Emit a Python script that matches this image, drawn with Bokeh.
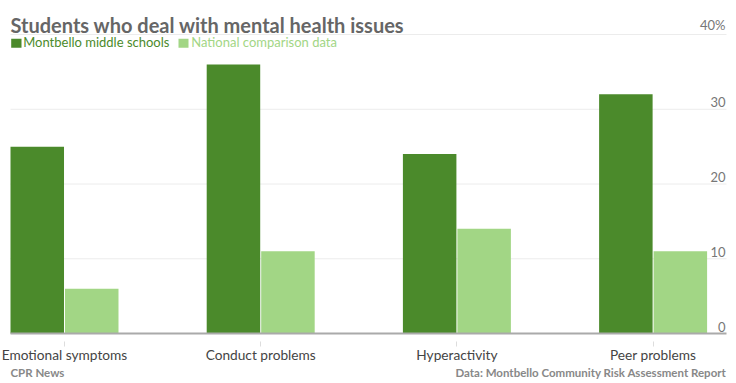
from bokeh.plotting import figure
from bokeh.models import (FixedTicker, Label, BoxAnnotation, Range1d, LinearAxis)
from bokeh.core.properties import value
from bokeh.embed import file_html
from bokeh.resources import INLINE

# ---- data ----
categories = ["Emotional symptoms", "Conduct problems", "Hyperactivity", "Peer problems"]
montbello = [25, 36, 24, 32]
national = [6, 11, 14, 11]
y_ticks = [0, 10, 20, 30, 40]
y_tick_labels = ["0", "10", "20", "30", "40%"]
grid_ticks = [10, 20, 30, 40]
series_names = ["Montbello middle schools", "National comparison data"]
title_text = "Students who deal with mental health issues"
source_text = "CPR News"
credit_text = "Data: Montbello Community Risk Assessment Report"

# ---- style / geometry ----
DARK = "#4b8a2b"
LIGHT = "#a2d685"
FONT = "Lato"
W, H = 736, 383
SLOT_PX = 196.2       # pixels per category
FIRST_PX = 64         # pixel of first category centre
X_START = -FIRST_PX / SLOT_PX
X_END = (W - FIRST_PX) / SLOT_PX
PLOT_L = (10 - FIRST_PX) / SLOT_PX
PLOT_R = (726 - FIRST_PX) / SLOT_PX
PX_PER_UNIT = 7.475
ZERO_PY = 333
Y_START = -(H - ZERO_PY) / PX_PER_UNIT
Y_END = ZERO_PY / PX_PER_UNIT
BAR_W = 0.2727
OFF = 0.13885
C = 6  # label baseline correction

p = figure(width=W, height=H, output_backend="svg", toolbar_location=None,
           x_range=Range1d(X_START, X_END), y_range=Range1d(Y_START, Y_END),
           x_axis_location=None, y_axis_location=None,
           min_border_left=0, min_border_right=0,
           min_border_top=0, min_border_bottom=0)
p.outline_line_color = None
p.background_fill_color = "white"
p.border_fill_color = "white"
p.grid.visible = False

# horizontal gridlines
p.segment(x0=[PLOT_L] * len(grid_ticks), x1=[PLOT_R] * len(grid_ticks),
          y0=grid_ticks, y1=grid_ticks, line_color="#ececec", line_width=1)

idx = list(range(len(categories)))
p.vbar(x=[i - OFF for i in idx], top=montbello, bottom=0, width=BAR_W,
       fill_color=DARK, line_color=None)
p.vbar(x=[i + OFF for i in idx], top=national, bottom=0, width=BAR_W,
       fill_color=LIGHT, line_color=None)

# right-side value labels
p.text(x=[PLOT_R] * len(y_ticks), y=y_ticks, text=y_tick_labels,
       text_align="right", text_baseline="bottom", x_offset=-1, y_offset=-2,
       text_font=value(FONT), text_font_size="13px", text_color="#777777")

ax = LinearAxis(fixed_location=0, bounds=(PLOT_L, PLOT_R))
ax.ticker = FixedTicker(ticks=idx)
ax.major_label_overrides = {i: c for i, c in zip(idx, categories)}
ax.axis_line_color = "#aaaaaa"
ax.axis_line_width = 2
ax.major_tick_line_color = "#dddddd"
ax.major_tick_in = -8
ax.major_tick_out = 13
ax.minor_tick_line_color = None
ax.major_label_standoff = -1
ax.major_label_text_font = FONT
ax.major_label_text_font_size = "13.7px"
ax.major_label_text_color = "#444444"
p.add_layout(ax, "below")

def ly(py, corr=C):
    return H - py + corr

# title
p.add_layout(Label(x=10, y=ly(30), x_units="screen", y_units="screen", text=title_text,
                   text_font=FONT, text_font_style="bold", text_font_size="20px",
                   text_color="#666666", text_baseline="alphabetic"))

# legend
p.add_layout(BoxAnnotation(left=10.7, right=21, bottom=ly(47.3, 0), top=ly(38.3, 0),
                           left_units="screen", right_units="screen",
                           bottom_units="screen", top_units="screen",
                           fill_color=DARK, fill_alpha=1, line_color=None))
p.add_layout(Label(x=22.7, y=ly(47.7), x_units="screen", y_units="screen", text=series_names[0],
                   text_font=FONT, text_font_size="13px", text_color=DARK,
                   text_baseline="alphabetic"))
p.add_layout(BoxAnnotation(left=178, right=188, bottom=ly(47.3, 0), top=ly(38.3, 0),
                           left_units="screen", right_units="screen",
                           bottom_units="screen", top_units="screen",
                           fill_color=LIGHT, fill_alpha=1, line_color=None))
p.add_layout(Label(x=190.7, y=ly(47.7), x_units="screen", y_units="screen", text=series_names[1],
                   text_font=FONT, text_font_size="13px", text_color=LIGHT,
                   text_baseline="alphabetic"))

# footer
p.add_layout(Label(x=10, y=ly(378), x_units="screen", y_units="screen", text=source_text,
                   text_font=FONT, text_font_style="bold", text_font_size="11.5px",
                   text_color="#888888", text_baseline="alphabetic"))
p.add_layout(Label(x=726, y=ly(378), x_units="screen", y_units="screen", text=credit_text,
                   text_font=FONT, text_font_style="bold", text_font_size="11.5px",
                   text_color="#888888", text_align="right", text_baseline="alphabetic"))

open("out.html", "w").write(file_html(p, INLINE))
